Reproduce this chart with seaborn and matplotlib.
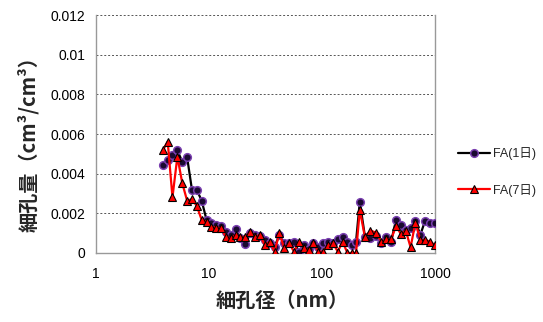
import numpy as np
import pandas as pd
import matplotlib
matplotlib.use("Agg")
import matplotlib.pyplot as plt
import seaborn as sns

# pore diameter (nm)
diam = [3.90, 4.31, 4.75, 5.25, 5.80, 6.40, 7.07, 7.80, 8.61, 9.51,
        10.5, 11.6, 12.8, 14.1, 15.6, 17.2, 19.0, 21.0, 23.2, 25.6,
        28.2, 31.2, 34.4, 38.0, 42.0, 46.3, 51.2, 56.5, 62.4, 68.9,
        76.0, 83.9, 92.7, 102, 113, 125, 138, 152, 168, 185,
        200, 216, 240, 268, 300, 336, 371, 409, 452, 499,
        551, 608, 671, 741, 818, 904, 998]

fa1 = [0.00444, 0.00470, 0.00495, 0.00517, 0.00460, 0.00483, 0.00318, 0.00318, 0.00264, 0.00167,
       0.00150, 0.00140, 0.00138, 0.00108, 0.00091, 0.00121, 0.00074, 0.00044, 0.00100, 0.00090,
       0.00085, 0.00066, 0.00052, 0.00032, 0.00090, 0.00049, 0.00052, 0.00057, 0.00007, 0.00040,
       0.00020, 0.00052, 0.00032, 0.00052, 0.00057, 0.00049, 0.00069, 0.00080, 0.00057, 0.00040,
       0.00057, 0.00259, 0.00082, 0.00074, 0.00086, 0.00052, 0.00079, 0.00057, 0.00167, 0.00141,
       0.00116, 0.00125, 0.00163, 0.00091, 0.00163, 0.00153, 0.00150]

fa7 = [0.00517, 0.00562, 0.00281, 0.00486, 0.00352, 0.00264, 0.00271, 0.00237, 0.00167, 0.00158,
       0.00133, 0.00128, 0.00125, 0.00082, 0.00074, 0.00091, 0.00082, 0.00080, 0.00108, 0.00082,
       0.00091, 0.00040, 0.00057, 0.00007, 0.00100, 0.00024, 0.00049, 0.00007, 0.00057, 0.00024,
       0.00015, 0.00052, 0.00007, 0.00007, 0.00040, 0.00049, 0.00007, 0.00057, 0.00000, 0.00000,
       0.00000, 0.00217, 0.00079, 0.00113, 0.00103, 0.00057, 0.00069, 0.00069, 0.00136, 0.00096,
       0.00113, 0.00029, 0.00153, 0.00066, 0.00066, 0.00057, 0.00040]

series_names = ["FA(1日)", "FA(7日)"]
yticks = [0, 0.002, 0.004, 0.006, 0.008, 0.01, 0.012]
ytick_labels = ["0", "0.002", "0.004", "0.006", "0.008", "0.01", "0.012"]
xticks = [1, 10, 100, 1000]
xtick_labels = ["1", "10", "100", "1000"]

df1 = pd.DataFrame({"d": diam, "v": fa1})
df7 = pd.DataFrame({"d": diam, "v": fa7})

sns.set_style("white")
plt.rcParams["font.family"] = ["Liberation Sans", "Noto Sans CJK JP", "DejaVu Sans"]

fig = plt.figure(figsize=(5.43, 3.22), dpi=100)
ax = fig.add_axes([0.1768, 0.2143, 0.8011 - 0.1768, 0.9534 - 0.2143])

sns.lineplot(data=df1, x="d", y="v", ax=ax, color="black", linewidth=1.6,
             marker="o", markersize=5.5, markerfacecolor="#1a0a30",
             markeredgecolor="#7a3fb0", markeredgewidth=1.1,
             label=series_names[0], legend=False, zorder=3)
sns.lineplot(data=df7, x="d", y="v", ax=ax, color="#ff0000", linewidth=1.6,
             marker="^", markersize=5.5, markerfacecolor="#ff0000",
             markeredgecolor="black", markeredgewidth=0.8,
             label=series_names[1], legend=False, zorder=4)

ax.set_xscale("log")
ax.set_xlim(1, 1000)
ax.set_ylim(0, 0.012)
ax.set_yticks(yticks)
ax.set_yticklabels(ytick_labels)
ax.set_xticks(xticks)
ax.set_xticklabels(xtick_labels)
ax.minorticks_off()
ax.tick_params(axis="both", labelsize=10, colors="black", length=4, width=0.8,
               direction="out", pad=4)
ax.tick_params(axis="x", pad=6)
ax.yaxis.grid(True, color="#555555", linestyle=(0, (2, 2)), linewidth=0.7)
ax.xaxis.grid(False)
ax.set_axisbelow(True)
for s in ["left", "bottom", "right"]:
    ax.spines[s].set_visible(True)
    ax.spines[s].set_color("#999999")
    ax.spines[s].set_linewidth(1.0)
ax.spines["top"].set_visible(False)

cjk = ["Noto Sans CJK JP", "DejaVu Sans"]
ax.set_xlabel("細孔径（nm）", fontsize=14.5, fontweight="bold", family=cjk)
ax.xaxis.set_label_coords(0.55, -0.155)
ax.set_ylabel("細孔量（cm³/cm³）", fontsize=14.5, fontweight="bold", family=cjk)
ax.yaxis.set_label_coords(-0.168, 0.48)

h, l = ax.get_legend_handles_labels()
fig.legend(h, l, loc="center left", bbox_to_anchor=(0.835, 0.466), frameon=False,
           fontsize=9, labelspacing=1.9, handlelength=2.5, handletextpad=0.3,
           borderaxespad=0)

fig.savefig("out.png", dpi=100)
